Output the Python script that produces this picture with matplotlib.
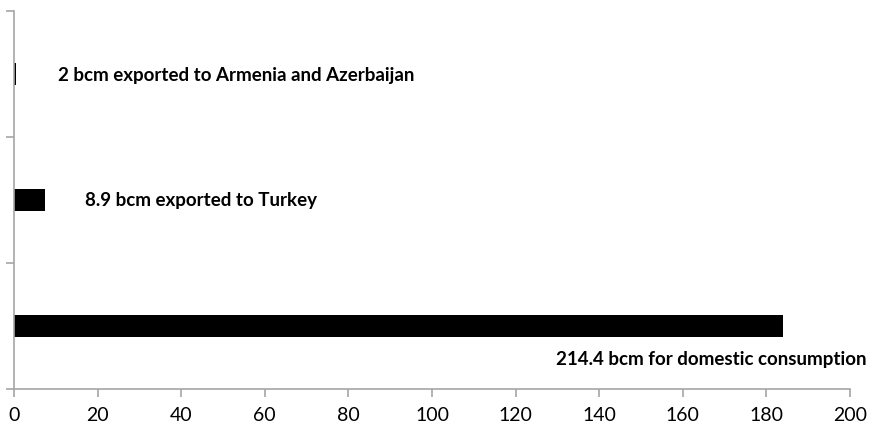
import matplotlib
matplotlib.use("Agg")
import matplotlib.pyplot as plt

# gas balance, bottom-to-top order on the chart
flows = ["domestic", "turkey", "armenia_azerbaijan"]
bar_lengths = [184, 7.5, 0.5]
flow_labels = [
    "214.4 bcm for domestic consumption",
    "8.9 bcm exported to Turkey",
    "2 bcm exported to Armenia and Azerbaijan",
]
x_ticks = [0, 20, 40, 60, 80, 100, 120, 140, 160, 180, 200]

plt.rcParams["font.family"] = ["Lato", "DejaVu Sans"]
axis_grey = "#a6a6a6"

fig = plt.figure(figsize=(8.72, 4.31), dpi=100)
ax = fig.add_axes([14 / 872, 41 / 431, 836 / 872, 378 / 431])

ypos = list(range(len(flows)))
ax.barh(ypos, bar_lengths, height=0.17, color="black")

# label offsets (x, y) in data units
label_pos = [(129.7, -0.255), (17, 1.005), (10.5, 1.995)]
for (lx, ly), txt in zip(label_pos, flow_labels):
    ax.text(lx, ly, txt, fontsize=13.5, fontweight="bold", va="center", ha="left")

ax.set_xlim(0, 200)
ax.set_ylim(-0.5, 2.5)
ax.set_xticks(x_ticks)
ax.set_xticklabels([str(t) for t in x_ticks], fontsize=14)
ax.set_yticks([-0.5, 0.5, 1.5, 2.5])
ax.set_yticklabels([])

for side in ["top", "right"]:
    ax.spines[side].set_visible(False)
for side in ["left", "bottom"]:
    ax.spines[side].set_color(axis_grey)
    ax.spines[side].set_linewidth(1.2)
ax.tick_params(axis="both", direction="out", length=5.5, width=1.2, color=axis_grey)
ax.tick_params(axis="x", pad=7)

fig.savefig("out.png", dpi=100)
